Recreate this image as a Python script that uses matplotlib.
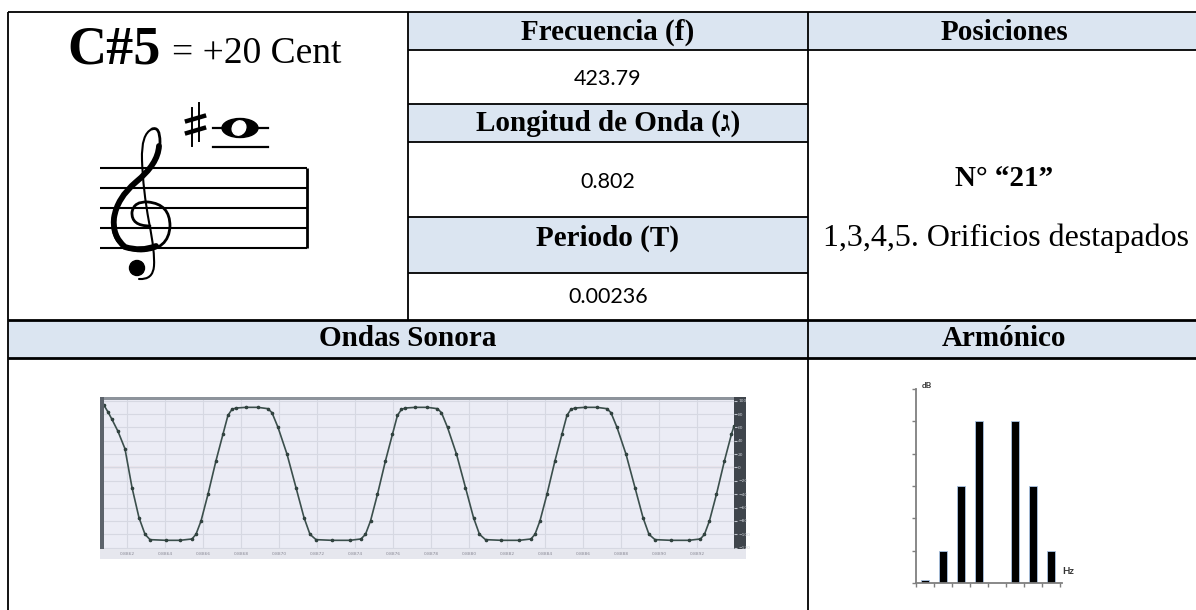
import numpy as np
import matplotlib
matplotlib.use("Agg")
import matplotlib.pyplot as plt
from matplotlib.patches import Rectangle, Ellipse, Circle, PathPatch
from matplotlib.path import Path
from matplotlib.ticker import FixedLocator, MultipleLocator

# ---- textos de la ficha ----
nota = "C#5"
desviacion = "= +20 Cent"
encabezados = ["Frecuencia (f)", "Longitud de Onda (ג)", "Periodo (T)"]
valores = ["423.79", "0.802", "0.00236"]
pos_titulo = "Posiciones"
pos_numero = "N° “21”"
pos_texto = "1,3,4,5. Orificios destapados"
titulo_onda = "Ondas Sonora"
titulo_arm = "Armónico"

# ---- onda sonora: tiempo (ms) y amplitud ----
onda_t = [0.000, 0.056, 0.111, 0.195, 0.292, 0.390, 0.487, 0.571, 0.641, 0.863,
          1.058, 1.225, 1.281, 1.351, 1.448, 1.559, 1.657, 1.726, 1.782, 1.838,
          1.977, 2.144, 2.283, 2.339, 2.423, 2.548, 2.673, 2.785, 2.868, 2.952,
          3.174, 3.425, 3.578, 3.641, 3.711, 3.808, 3.919, 4.017, 4.086, 4.142,
          4.198, 4.337, 4.504, 4.643, 4.699, 4.783, 4.908, 5.033, 5.145, 5.228,
          5.312, 5.534, 5.785, 5.945, 6.001, 6.070, 6.168, 6.279, 6.377, 6.446,
          6.502, 6.558, 6.697, 6.864, 7.003, 7.059, 7.143, 7.268, 7.393, 7.505,
          7.588, 7.672, 7.894, 8.145, 8.305, 8.361, 8.430, 8.528, 8.639, 8.737, 8.772]
onda_a = [93, 83, 72, 54, 28, -30, -75, -100, -108, -109,
          -109, -107, -100, -80, -40, 10, 50, 78, 87, 89,
          90, 90, 88, 82, 60, 20, -30, -75, -100, -108,
          -109, -109, -107, -100, -80, -40, 10, 50, 78, 87,
          89, 90, 90, 88, 82, 60, 20, -30, -75, -100,
          -108, -109, -109, -107, -100, -80, -40, 10, 50, 78,
          87, 89, 90, 90, 88, 82, 60, 20, -30, -75,
          -100, -108, -109, -109, -107, -100, -80, -40, 10, 50, 62]
onda_etiquetas = ["0.8862", "0.8864", "0.8866", "0.8868", "0.8870", "0.8872",
                  "0.8874", "0.8876", "0.8878", "0.8880", "0.8882", "0.8884",
                  "0.8886", "0.8888", "0.8890", "0.8892"]

# ---- espectro de armónicos ----
arm_n = [1, 2, 3, 4, 5, 6, 7, 8]
arm_db = [0.1, 1, 3, 5, 0, 5, 3, 1]

W, H = 1196, 610
AZUL = "#dbe5f1"
SERIF = ["Liberation Serif", "DejaVu Serif", "DejaVu Sans"]
SANS = ["Lato", "DejaVu Sans"]


def caja(x0, y0, x1, y1):
    """rectangulo en pixeles -> coords de figura"""
    return [x0 / W, 1 - y1 / H, (x1 - x0) / W, (y1 - y0) / H]


def trazo(puntos):
    """puntos: inicio y luego pares (control, fin) de curvas cuadraticas"""
    codes = [Path.MOVETO] + [Path.CURVE3] * (len(puntos) - 1)
    return Path(puntos, codes)


fig = plt.figure(figsize=(W / 100, H / 100), dpi=100)
ax = fig.add_axes([0, 0, 1, 1])
ax.set_xlim(0, W)
ax.set_ylim(H, 0)
ax.axis("off")

# =================== TABLA ===================
for (x0, y0, x1, y1) in [(408, 12, 808, 50), (808, 12, 1200, 50), (408, 104, 808, 142),
                         (408, 217, 808, 273), (8, 320, 808, 358), (808, 320, 1200, 358)]:
    ax.add_patch(Rectangle((x0, y0), x1 - x0, y1 - y0, color=AZUL, lw=0, zorder=0))

lw = 1.3
for y, x0, x1, w in [(12, 8, 1200, lw), (50, 408, 1200, lw), (104, 408, 808, lw),
                     (142, 408, 808, lw), (217, 408, 808, lw), (273, 408, 808, lw),
                     (320, 8, 1200, 2.0), (358, 8, 1200, 2.0)]:
    ax.plot([x0, x1], [y, y], color="black", lw=w, solid_capstyle="butt")
for x, y0, y1 in [(8, 12, 612), (408, 12, 320), (808, 12, 612)]:
    ax.plot([x, x], [y0, y1], color="black", lw=lw, solid_capstyle="butt")

# columna central
ax.text(608, 32, encabezados[0], ha="center", va="center", fontsize=21,
        fontweight="bold", family=SERIF)
ax.text(608, 79, valores[0], ha="center", va="center", fontsize=15.5, family=SANS)
ax.text(608, 123, encabezados[1], ha="center", va="center", fontsize=21,
        fontweight="bold", family=SERIF)
ax.text(608, 182, valores[1], ha="center", va="center", fontsize=15.5, family=SANS)
ax.text(608, 238, encabezados[2], ha="center", va="center", fontsize=21,
        fontweight="bold", family=SERIF)
ax.text(608, 297, valores[2], ha="center", va="center", fontsize=15.5, family=SANS)

# columna de posiciones
ax.text(1004, 32, pos_titulo, ha="center", va="center", fontsize=21,
        fontweight="bold", family=SERIF)
ax.text(1004, 178, pos_numero, ha="center", va="center", fontsize=21,
        fontweight="bold", family=SERIF)
ax.text(1006, 238, pos_texto, ha="center", va="center", fontsize=23, family=SERIF)

# fila inferior
ax.text(408, 339, titulo_onda, ha="center", va="center", fontsize=21,
        fontweight="bold", family=SERIF)
ax.text(1004, 339, titulo_arm, ha="center", va="center", fontsize=21,
        fontweight="bold", family=SERIF)

# =================== NOTA Y PENTAGRAMA ===================
ax.text(67, 63, nota, ha="left", va="baseline", fontsize=39, fontweight="bold", family=SERIF)
ax.text(172, 63, desviacion, ha="left", va="baseline", fontsize=27, family=SERIF)

for y in [168, 188, 208, 228, 248]:
    ax.plot([100, 307], [y, y], color="black", lw=1.5, solid_capstyle="butt")
ax.plot([307, 307], [168, 248], color="black", lw=2.0, solid_capstyle="butt")

# clave de sol (ninguna fuente instalada trae el glifo U+1D11E)
cuerpo = trazo([(150, 226),
                (131, 226), (132, 212),
                (134, 201), (148, 202),
                (170, 204), (170, 226),
                (169, 250), (141, 251),
                (113, 250), (113, 224),
                (114, 200), (135, 183),
                (160, 163), (160, 142),
                (160, 126), (152, 129)])
tallo = trazo([(152, 129),
               (141, 134), (142, 160),
               (143, 190), (149, 222),
               (155, 252), (154, 266),
               (153, 280), (139, 279)])
grueso = trazo([(156, 246),
                (141, 252), (125, 247),
                (112, 236), (114, 218),
                (117, 198), (136, 182),
                (158, 164), (159, 146)])
ax.add_patch(PathPatch(cuerpo, fc="none", ec="black", lw=2.0, capstyle="round", zorder=3))
ax.add_patch(PathPatch(tallo, fc="none", ec="black", lw=1.5, capstyle="round", zorder=3))
ax.add_patch(PathPatch(grueso, fc="none", ec="black", lw=4.2, capstyle="round", zorder=3))
ax.add_patch(Circle((137, 268), 7.5, color="black", zorder=3))

# sostenido
ax.plot([192, 192], [108, 146], color="black", lw=1.4)
ax.plot([199, 199], [103, 141], color="black", lw=1.4)
ax.plot([187, 204], [121, 116], color="black", lw=3.2)
ax.plot([187, 204], [133, 128], color="black", lw=3.2)
# redonda con lineas adicionales
ax.plot([213, 268], [128, 128], color="black", lw=1.6)
ax.plot([213, 268], [147, 147], color="black", lw=1.6)
ax.add_patch(Ellipse((240, 128), 36, 19, color="black", zorder=3))
ax.add_patch(Ellipse((239, 128), 13, 15, angle=35, color="white", zorder=4))

# =================== ONDA SONORA ===================
ax.add_patch(Rectangle((100, 397), 646, 162, color="#e6e7ee", lw=0, zorder=1))
ax.add_patch(Rectangle((100, 397), 646, 3, color="#8d939b", lw=0, zorder=2))
ax.add_patch(Rectangle((100, 397), 4, 152, color="#5c636b", lw=0, zorder=2))
ax.add_patch(Rectangle((734, 397), 12, 152, color="#3f454c", lw=0, zorder=2))

aw = fig.add_axes(caja(104, 400, 734, 549))
aw.set_facecolor("#ebecf5")
aw.plot(onda_t, onda_a, color="#3b4f4c", lw=1.2, marker="o", ms=1.6, mec="#2f403d")
aw.axhline(0, color="#e2c6cb", lw=1.0, zorder=0)
aw.set_xlim(0, 8.772)
aw.set_ylim(-122, 101)
aw.xaxis.set_major_locator(FixedLocator(0.32 + 0.529 * np.arange(len(onda_etiquetas))))
aw.set_xticklabels(onda_etiquetas)
aw.yaxis.set_major_locator(MultipleLocator(20))
aw.yaxis.tick_right()
aw.grid(True, color="#d6d8e2", lw=0.8)
aw.set_axisbelow(True)
aw.tick_params(axis="x", length=0, labelsize=3.2, labelcolor="#8a8a96", pad=2)
aw.tick_params(axis="y", length=2, color="#c0c4cc", labelsize=3.2, labelcolor="#c8ccd2", pad=1)
for s in aw.spines.values():
    s.set_visible(False)

# =================== ARMÓNICOS ===================
ah = fig.add_axes(caja(916, 389, 1062, 583))
ah.bar([n - 0.5 for n in arm_n], arm_db, width=0.42, color="black",
       edgecolor="#a9c4e4", lw=0.6)
ah.set_xlim(0, 8.11)
ah.set_ylim(0, 6)
ah.xaxis.set_major_locator(MultipleLocator(1))
ah.yaxis.set_major_locator(MultipleLocator(1))
ah.tick_params(length=3, width=1, color="#7f7f7f", labelbottom=False, labelleft=False)
for s in ["top", "right"]:
    ah.spines[s].set_visible(False)
for s in ["left", "bottom"]:
    ah.spines[s].set_color("#7f7f7f")
    ah.spines[s].set_linewidth(1.3)
ah.set_facecolor("none")
ah.text(0.04, 1.0, "dB", transform=ah.transAxes, fontsize=6, fontweight="bold",
        va="bottom", ha="left", family=SANS, color="#333333")
ah.text(8.12, 0.35, "Hz", fontsize=7, fontweight="bold", va="center", ha="left",
        family=SANS, color="#333333", clip_on=False)

fig.savefig("out.png", dpi=100)
